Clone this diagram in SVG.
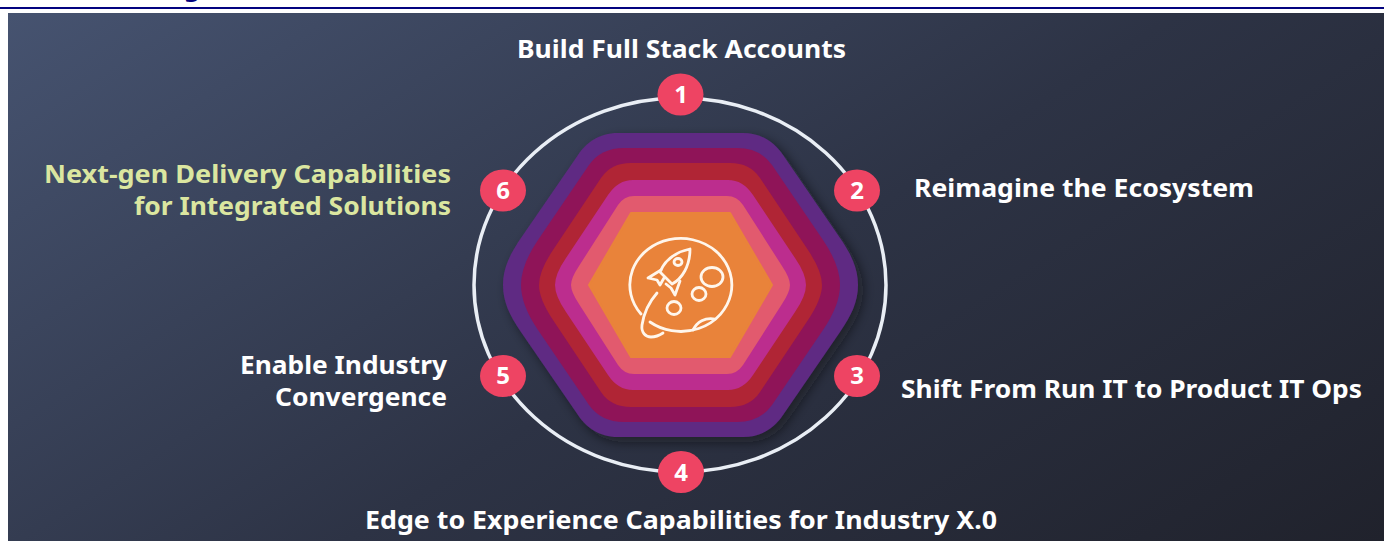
<svg xmlns="http://www.w3.org/2000/svg" width="1384" height="541" viewBox="0 0 1384 541">
<defs>
<linearGradient id="bg" gradientUnits="userSpaceOnUse" x1="8" y1="13" x2="640" y2="1012">
<stop offset="0" stop-color="#465370"/><stop offset="0.53" stop-color="#2d3345"/><stop offset="1" stop-color="#20222c"/>
</linearGradient>
<filter id="sh" x="-20%" y="-20%" width="140%" height="140%"><feDropShadow dx="5" dy="5" stdDeviation="6" flood-color="#0c0d14" flood-opacity="0.55"/></filter>
</defs>
<style>
text{font-family:"Noto Sans","Open Sans",sans-serif;font-weight:700;font-size:25.500px;fill:#fff}
.m{text-anchor:middle}
.lime{fill:#dbe6a0}
.badge ellipse{fill:#ee4463}
.badge text{text-anchor:middle;font-size:24px}
.ic{fill:none;stroke:#fff6ec;stroke-width:2.800;stroke-linecap:round;stroke-linejoin:round}
</style>
<rect width="1384" height="541" fill="#fff"/>
<text x="192" y="-4" class="m" style="fill:#03037f">g</text>
<rect x="0" y="7" width="1384" height="2" fill="#03037f"/>
<rect x="8" y="13" width="1376" height="528" fill="url(#bg)"/>
<g id="ring"><ellipse cx="680" cy="285" rx="206" ry="187" fill="none" stroke="#e9eef5" stroke-width="3.500"/></g>
<g id="core">
<path filter="url(#sh)" fill="#5f2a83" d="M618 133H743C762 133 775 143 783 155L840 238C851 254 858 268 858 285C858 302 851 316 840 332L783 415C775 427 762 437 743 437H618C599 437 586 427 578 415L521 332C510 316 503 302 503 285C503 268 510 254 521 238L578 155C586 143 599 133 618 133Z"/>
<path fill="#8f1458" d="M624 148H737Q760 148 772 165L823 240Q840 265 840 285Q840 305 823 330L772 405Q760 422 737 422H624Q601 422 589 405L538 330Q521 305 521 285Q521 265 538 240L589 165Q601 148 624 148Z"/>
<path fill="#b02535" d="M631 163H730Q750 163 760 178L808 250Q822 271 822 285Q822 299 808 320L760 392Q750 407 730 407H631Q611 407 601 392L553 320Q539 299 539 285Q539 271 553 250L601 178Q611 163 631 163Z"/>
<path fill="#bc2d8e" d="M633 180H728Q743 180 753 195L795 258Q806 274 806 285Q806 296 795 312L753 375Q743 390 728 390H633Q618 390 608 375L566 312Q555 296 555 285Q555 274 566 258L608 195Q618 180 633 180Z"/>
<path fill="#e25a6e" d="M634 196H727Q737 196 743 205L782 266Q790 278 790 285Q790 292 782 304L743 365Q737 374 727 374H634Q624 374 618 365L579 304Q571 292 571 285Q571 278 579 266L618 205Q624 196 634 196Z"/>
<polygon fill="#e9833a" stroke="#e9833a" stroke-width="2" stroke-linejoin="round" points="631,213 730,213 772,285 730,357 631,357 589,285"/>
</g>
<g id="icon" class="ic">
<path d="M641 314A51 46.500 0 1 1 650 322"/>
<path d="M657 293C650 301 644 312 642 325C641 333 646 337 651 337C656 337 660 335 663 333"/>
<path d="M690 249C676 252 665 260 660 272L672 284C682 279 690 266 690 249Z"/>
<ellipse cx="678" cy="262" rx="4" ry="3.500"/>
<path d="M661 270L648 278L657 280L660 285L664 278"/>
<path d="M680 281L675 295L671 288L666 284"/>
<ellipse cx="712" cy="277" rx="11" ry="9.500"/>
<ellipse cx="699" cy="294" rx="7" ry="6.500"/>
<ellipse cx="674" cy="308" rx="7" ry="6.500"/>
<path d="M693 330C697 322 705 317 715 319"/>
</g>
<g id="n1" class="badge"><ellipse cx="680.500" cy="94.500" rx="23" ry="21"/><text x="681" y="103">1</text></g>
<g id="n2" class="badge"><ellipse cx="857" cy="190.500" rx="23" ry="21"/><text x="857" y="199">2</text></g>
<g id="n3" class="badge"><ellipse cx="857" cy="376" rx="23" ry="21"/><text x="857" y="384">3</text></g>
<g id="n4" class="badge"><ellipse cx="681" cy="472" rx="23" ry="21"/><text x="681" y="481">4</text></g>
<g id="n5" class="badge"><ellipse cx="503" cy="376" rx="23" ry="21"/><text x="503" y="384">5</text></g>
<g id="n6" class="badge"><ellipse cx="503" cy="190.500" rx="23" ry="21"/><text x="503" y="199">6</text></g>
<g id="labels">
<text x="517" y="58" textLength="329" lengthAdjust="spacingAndGlyphs">Build Full Stack Accounts</text>
<text x="914" y="197" textLength="340" lengthAdjust="spacingAndGlyphs">Reimagine the Ecosystem</text>
<text x="901" y="398" textLength="461" lengthAdjust="spacingAndGlyphs">Shift From Run IT to Product IT Ops</text>
<text x="365" y="529" textLength="632" lengthAdjust="spacingAndGlyphs">Edge to Experience Capabilities for Industry X.0</text>
<text x="240" y="374" textLength="207" lengthAdjust="spacingAndGlyphs">Enable Industry</text>
<text x="275" y="406" textLength="172" lengthAdjust="spacingAndGlyphs">Convergence</text>
<text x="44" y="183" class="lime" textLength="407" lengthAdjust="spacingAndGlyphs">Next-gen Delivery Capabilities</text>
<text x="134" y="215" class="lime" textLength="317" lengthAdjust="spacingAndGlyphs">for Integrated Solutions</text>
</g>
</svg>
